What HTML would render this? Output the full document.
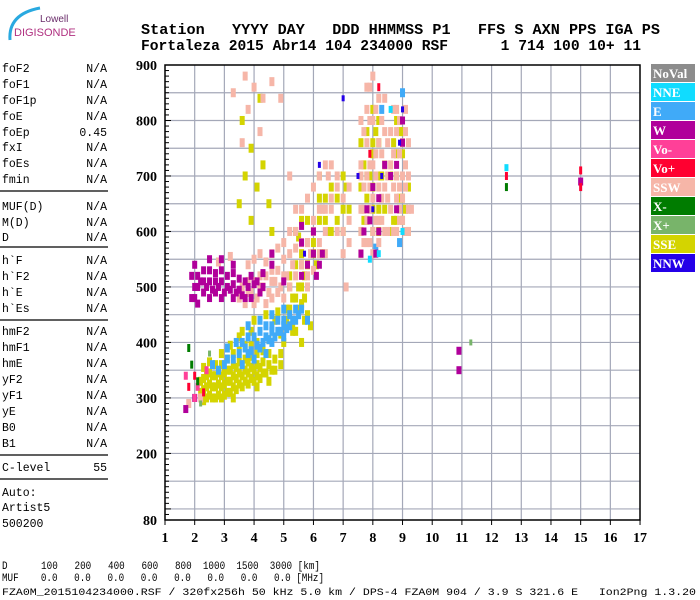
<!DOCTYPE html>
<html><head><meta charset="utf-8"><style>
html,body{margin:0;padding:0;background:#fff;}
svg{display:block;}
.mono{font-family:"Liberation Mono",monospace;}
.ser{font-family:"Liberation Serif",serif;font-weight:bold;}
</style></head><body>
<svg id="chart" width="700" height="600" viewBox="0 0 700 600" xmlns="http://www.w3.org/2000/svg">
<g>
<path d="M10,40 Q8,14 40,8" stroke="#29a9e0" stroke-width="3" fill="none"/>
<text x="40" y="22" font-family="Liberation Sans,sans-serif" font-size="10" fill="#6a2c6a">Lowell</text>
<text x="14" y="36" font-family="Liberation Sans,sans-serif" font-size="11" fill="#b03080">DIGISONDE</text>
</g>
<g class="mono" font-weight="bold" font-size="14.5" fill="#000">
<text x="141" y="34" textLength="519" lengthAdjust="spacingAndGlyphs" xml:space="preserve">Station   YYYY DAY   DDD HHMMSS P1   FFS S AXN PPS IGA PS</text>
<text x="141" y="50" textLength="500" lengthAdjust="spacingAndGlyphs" xml:space="preserve">Fortaleza 2015 Abr14 104 234000 RSF      1 714 100 10+ 11</text>
</g>
<g id="params" class="mono" font-size="11.5" fill="#000"></g>
<g id="grid"></g>
<g id="marks"></g>
<g id="axes"></g>
<g id="legend"></g>
<g class="mono" font-size="11" fill="#000">
<text x="2" y="569" textLength="318" lengthAdjust="spacingAndGlyphs" xml:space="preserve">D      100   200   400   600   800  1000  1500  3000 [km]</text>
<text x="2" y="581" textLength="322" lengthAdjust="spacingAndGlyphs" xml:space="preserve">MUF    0.0   0.0   0.0   0.0   0.0   0.0   0.0   0.0 [MHz]</text>
<text x="2" y="595" font-size="10" textLength="694" lengthAdjust="spacingAndGlyphs" xml:space="preserve">FZA0M_2015104234000.RSF / 320fx256h 50 kHz 5.0 km / DPS-4 FZA0M 904 / 3.9 S 321.6 E   Ion2Png 1.3.20</text>
</g>
</svg>
<script>
const xTicks=[1,2,3,4,5,6,7,8,9,10,11,12,13,14,15,16,17];
const yTicks=[900,800,700,600,500,400,300,200,80];
const legendNames=["NoVal","NNE","E","W","Vo-","Vo+","SSW","X-","X+","SSE","NNW"];
const legendColors=["#8c8c8c","#10dcff","#40aaf8","#b0009a","#ff4098","#ff0030","#f6b6a8","#007c00","#78b46a","#d4d400","#2400e8"];
const paramNames=["foF2","foF1","foF1p","foE","foEp","fxI","foEs","fmin","MUF(D)","M(D)","D","h`F","h`F2","h`E","h`Es","hmF2","hmF1","hmE","yF2","yF1","yE","B0","B1","C-level"];
const paramValues=["N/A","N/A","N/A","N/A","0.45","N/A","N/A","N/A","N/A","N/A","N/A","N/A","N/A","N/A","N/A","N/A","N/A","N/A","N/A","N/A","N/A","N/A","N/A","55"];
const paramY=[72,88,104,120,136,151,167,183,210,226,241,264,280,296,312,335,351,367,383,399,415,431,447,471];

const sseF=[2.4,2.4,2.4,2.6,2.6,2.6,2.8,2.8,2.8,3.0,3.0,3.0,3.2,3.2,3.2,3.4,3.4,3.4,3.6,3.6,3.6,3.8,3.8,3.8,4.0,4.0,4.2,4.2,4.4,4.6,2.2,2.2,3.3,3.7,4.1,4.5,4.9,5.3,5.1,4.7,3.9,3.5,5.1,5.3,5.5,5.7,5.5,5.7,5.4,5.6,5.8,5.5,5.3,5.7,5.9,6.1,6.3,6.5,6.2,6.4,6.6,7.0,7.2,7.1,7.7,7.8,7.9,8.0,8.1,8.2,8.0,8.3,7.7,8.7,8.9,9.1,8.8,9.0,8.9,8.7,3.5,3.7,3.9,4.1,4.3,3.6,4.5,4.6,3.9,4.2,
2.3,2.3,2.3,2.3,2.5,2.5,2.5,2.5,2.7,2.7,2.7,2.7,2.9,2.9,2.9,2.9,2.9,3.1,3.1,3.1,3.1,3.3,3.3,3.3,3.3,3.5,3.5,3.5,3.5,3.7,3.7,3.7,3.9,3.9,3.9,3.9,4.1,4.1,4.1,4.1,4.3,4.3,4.3,4.5,4.5,4.5,4.7,4.7,4.9,4.9,
3.2,3.6,4.0,4.4,4.8,5.2,5.6,5.0,5.4,5.8,5.6,
5.2,5.2,5.4,5.4,5.6,5.6,5.6,5.8,5.8,5.8,6.0,6.0,
7.6,7.6,7.6,7.8,7.8,7.8,8.0,8.0,8.0,8.0,8.2,8.2,8.2,8.2,8.4,8.4,
8.6,8.6,8.8,8.8,8.8,9.0,9.0,9.0,9.2,9.2,
6.0,6.2,6.2,6.4,6.6,6.8,6.8,7.0,7.0];
const sseH=[300,320,340,300,320,340,305,325,345,305,325,345,310,330,350,315,335,355,320,340,360,325,345,365,330,350,335,355,345,350,310,330,380,395,400,405,415,420,440,440,420,410,460,480,460,480,500,520,540,560,580,590,430,440,430,540,560,600,620,660,680,600,640,680,620,660,700,740,780,640,600,700,720,620,660,640,700,740,780,760,650,700,750,680,720,800,650,600,620,840,
295,315,335,355,305,325,345,365,300,320,340,360,300,320,340,360,380,310,330,350,370,300,320,340,360,325,345,365,385,330,350,370,335,355,375,395,320,340,360,380,345,365,385,330,360,380,350,370,360,380,
395,420,440,450,455,460,470,400,420,450,400,
500,520,480,600,500,540,620,500,540,620,580,600,
600,680,760,620,700,780,640,680,760,820,600,700,760,800,640,720,
600,700,620,740,800,620,660,780,600,680,
560,660,700,620,600,620,660,640,700];

const eF=[3.3,3.5,3.7,3.9,4.1,4.3,4.5,4.7,4.9,5.1,5.3,5.5,3.8,4.2,4.6,5.0,4.4,3.0,8.1,8.9,9.0,8.3,
3.1,3.1,3.4,3.6,3.6,3.8,3.8,4.0,4.0,4.2,4.2,4.4,4.4,4.6,4.6,4.6,4.8,4.8,5.0,5.0,5.0,5.2,5.2,5.4,5.4,5.6,5.8,2.8,2.6];
const eH=[370,380,390,385,395,400,405,410,420,425,440,450,410,420,430,440,380,360,570,580,850,820,
370,390,400,360,400,380,430,370,410,390,440,410,430,400,420,450,420,440,410,430,460,430,450,440,460,460,440,350,360];

const sswF=[3.5,3.7,3.9,4.1,4.3,4.5,4.7,4.9,5.1,5.3,4.2,4.6,5.0,5.4,3.8,4.4,2.8,3.2,5.8,6.0,6.2,6.4,6.6,6.0,6.3,6.5,5.9,6.8,7.0,7.2,7.1,7.6,7.8,8.0,8.2,8.4,7.7,7.9,8.1,8.3,8.5,7.8,8.0,8.2,7.6,8.4,7.9,8.7,8.9,9.1,8.8,9.0,9.2,8.9,9.1,8.7,3.3,3.7,4.0,4.3,3.8,4.6,4.9,3.6,4.2,5.2,1.8,2.2,
3.6,3.8,3.8,4.0,4.0,4.0,4.2,4.2,4.4,4.4,4.6,4.6,4.6,4.8,4.8,4.8,5.0,5.0,5.0,5.2,5.2,5.2,5.4,5.4,5.4,5.6,5.6,5.6,5.8,5.8,5.8,6.0,6.0,6.2,6.2,6.2,6.4,6.4,6.4,6.6,6.6,6.8,6.8,7.0,7.0,7.2,7.2,
7.6,7.6,7.6,7.6,7.7,7.7,7.7,7.8,7.8,7.8,7.8,7.9,7.9,7.9,7.9,8.0,8.0,8.0,8.0,8.1,8.1,8.1,8.2,8.2,8.2,8.3,8.3,8.3,8.4,8.4,8.4,8.5,8.5,8.5,
8.6,8.6,8.6,8.7,8.7,8.8,8.8,8.8,8.8,8.9,8.9,8.9,9.0,9.0,9.0,9.1,9.1,9.1,9.2,9.2,9.2,9.3];
const sswH=[480,470,490,480,500,490,510,500,520,540,520,530,550,570,510,545,545,555,500,530,560,600,640,600,640,700,560,680,560,620,500,560,580,600,620,600,640,680,700,740,660,760,800,840,700,780,860,600,620,600,660,700,640,740,780,820,850,880,860,840,820,870,840,760,780,700,290,300,
500,490,540,470,510,550,500,560,470,520,480,510,560,490,530,570,480,520,580,500,560,600,520,600,640,540,580,640,520,580,660,620,680,580,640,700,560,640,720,660,720,600,700,600,660,580,680,
600,640,720,800,580,680,780,620,700,820,860,580,640,720,800,560,660,720,880,620,740,820,580,680,760,620,660,800,680,720,840,600,700,760,
640,720,780,680,740,600,700,780,820,640,680,800,620,660,760,680,720,820,600,700,760,640];

const wF=[1.9,2.0,2.2,2.4,2.6,2.8,3.0,3.2,3.4,3.6,2.3,2.7,3.1,3.5,2.5,2.9,3.3,1.9,2.1,3.8,4.0,4.2,5.6,5.8,6.1,6.3,7.9,8.2,8.8,9.0,8.1,7.7,10.9,10.9,15.0,1.7,2.0,
2.0,2.0,2.1,2.1,2.3,2.3,2.5,2.5,2.5,2.7,2.7,2.9,2.9,2.9,3.1,3.3,3.3,3.3,3.5,3.7,3.7,3.9,3.9,4.1,4.3,4.3,4.6,4.6,5.0,
6.0,6.0,6.2,7.8,8.0,8.4,8.6,9.0,8.8,7.6,8.2,5.6,5.6];
const wH=[480,500,510,500,495,500,490,495,490,485,530,525,520,515,550,550,540,520,470,500,505,490,520,540,520,560,620,660,720,800,560,600,350,385,690,280,300,
480,540,500,520,490,510,480,510,530,490,510,480,510,530,500,480,505,525,495,480,510,480,520,510,500,525,540,560,510,
560,600,540,640,680,720,700,760,640,560,600,580,610];

const vopF=[1.8,2.0,2.3,12.5,15.0,15.0,8.2,7.9];
const vopH=[320,340,310,700,710,680,860,740];
const vomF=[1.7,2.1,2.4,2.0];
const vomH=[340,320,350,300];
const xmF=[1.9,2.1,12.5,1.8];
const xmH=[360,330,680,390];
const xpF=[2.2,11.3,2.5];
const xpH=[290,400,380];
const nneF=[7.9,8.2,9.0,12.5,8.6];
const nneH=[550,560,600,715,820];
const nnwF=[7.0,8.0,8.3,8.9,7.5,9.0,6.2,5.7];
const nnwH=[840,640,700,760,700,820,720,560];

const NS="http://www.w3.org/2000/svg";
function xs(f){return 165+(f-1)*29.69;}
function ys(h){return 65+(900-h)*0.5549;}
function mk(tag,parent,attrs){const e=document.createElementNS(NS,tag);for(const k in attrs)e.setAttribute(k,attrs[k]);parent.appendChild(e);return e;}

const grid=document.getElementById('grid');
for(let f=2;f<=16;f++){
  const l=mk('line',grid,{x1:xs(f),x2:xs(f),y1:65,y2:520,stroke:'#a4a8b8','stroke-width':1.2});
  
  
}
for(let h=100;h<=850;h+=50){
  const l=mk('line',grid,{x1:165,x2:640,y1:ys(h),y2:ys(h),stroke:'#a4a8b8','stroke-width':1.2});
  
  
}

const marks=document.getElementById('marks');
function series(name,F,H,color,w,hh){
  const g=mk('g',marks,{});
  
  
  for(let i=0;i<F.length;i++){
    const r=mk('rect',g,{x:xs(F[i])-w/2,y:ys(H[i])-hh/2,width:w,height:hh,fill:color});
    
    
  }
}
series('sse',sseF,sseH,'#d4d400',5,9);
series('e',eF,eH,'#40aaf8',5,9);
series('ssw',sswF,sswH,'#f6b6a8',5,9);
series('w',wF,wH,'#b0009a',5,8);
series('vo-plus',vopF,vopH,'#ff0030',3,8);
series('vo-minus',vomF,vomH,'#ff4098',4,8);
series('x-minus',xmF,xmH,'#007c00',3,8);
series('x-plus',xpF,xpH,'#78b46a',3,6);
series('nne',nneF,nneH,'#10dcff',4,7);
series('nnw',nnwF,nnwH,'#2400e8',3,6);

const axes=document.getElementById('axes');
mk('rect',axes,{x:165,y:65,width:475,height:455,fill:'none',stroke:'#000','stroke-width':1.5});
for(let h=80;h<=900;h+=10){
  const major=(h%100===0)||h===80;
  const t=mk('line',axes,{x1:165,x2:165+(major?6:4),y1:ys(h),y2:ys(h),stroke:'#000','stroke-width':1});
  
  
}
yTicks.forEach(v=>{
  const t=mk('text',axes,{x:157,y:ys(v)+5,'text-anchor':'end','font-size':14,class:'ser'});
  t.textContent=v;
  
  
});
xTicks.forEach(v=>{
  const k=mk('line',axes,{x1:xs(v),x2:xs(v),y1:520,y2:525,stroke:'#000'});
  
  
  const t=mk('text',axes,{x:xs(v),y:542,'text-anchor':'middle','font-size':14,class:'ser'});
  t.textContent=v;
  
  
});

const leg=document.getElementById('legend');
legendNames.forEach((n,i)=>{
  const y=64+i*19;
  const r=mk('rect',leg,{x:651,y:y,width:44,height:18,fill:legendColors[i]});
  
  
  const t=mk('text',leg,{x:653,y:y+14,'font-size':13,fill:'#fff',class:'ser'});
  t.textContent=n;
  
  
});

const pp=document.getElementById('params');
paramNames.forEach((n,i)=>{
  const a=mk('text',pp,{x:2,y:paramY[i]});
  a.textContent=n;
  
  
  const b=mk('text',pp,{x:107,y:paramY[i],'text-anchor':'end'});
  b.textContent=paramValues[i];
  
  
});
[191,247,320,455,479].forEach(y=>{
  const l=mk('line',pp,{x1:0,x2:108,y1:y,y2:y,stroke:'#000','stroke-width':1.3});
  
  
});
[["Auto:",496],["Artist5",511],["500200",527]].forEach(p=>{
  const t=mk('text',pp,{x:2,y:p[1]});
  t.textContent=p[0];
  
  
});
</script>
</body></html>
